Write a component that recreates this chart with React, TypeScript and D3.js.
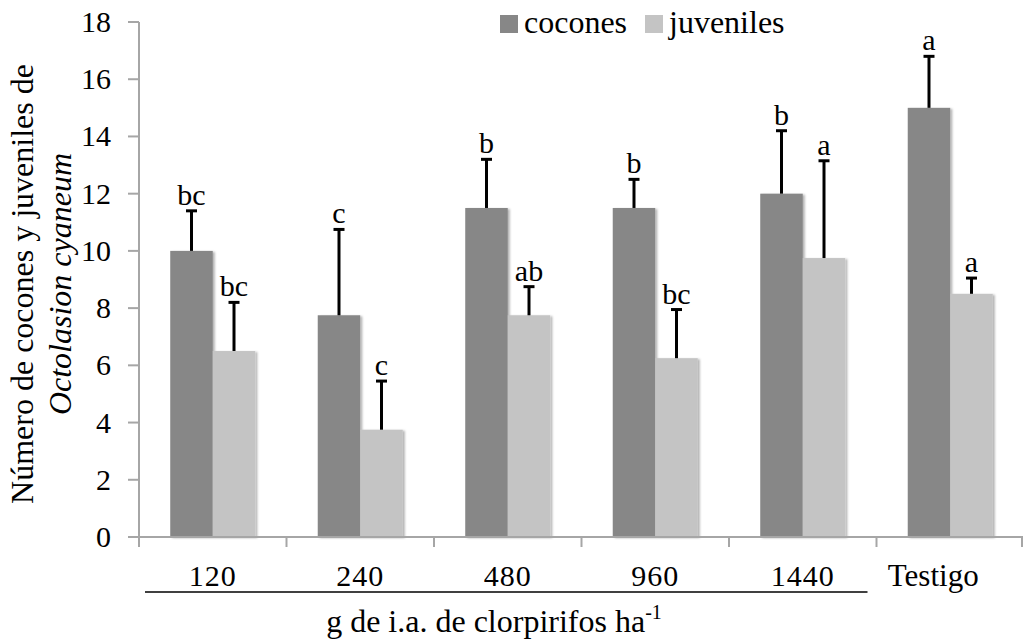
import React from 'react';
import * as d3 from 'd3';

const categories = ['120', '240', '480', '960', '1440', 'Testigo'];
const series = ['cocones', 'juveniles'];
const cocones = [10, 7.75, 11.5, 11.5, 12, 15];
const coconesErr = [1.4, 3.0, 1.7, 1.0, 2.2, 1.8];
const coconesLetters = ['bc', 'c', 'b', 'b', 'b', 'a'];
const juveniles = [6.5, 3.75, 7.75, 6.25, 9.75, 8.5];
const juvenilesErr = [1.7, 1.7, 1.0, 1.7, 3.4, 0.55];
const juvenilesLetters = ['bc', 'c', 'ab', 'bc', 'a', 'a'];
const yTicks = [0, 2, 4, 6, 8, 10, 12, 14, 16, 18];

const colors = { cocones: '#878787', juveniles: '#c4c4c4' };
const font = "'Liberation Serif', 'DejaVu Serif', serif";

export default function App() {
  const width = 1023;
  const height = 642;
  const margin = { top: 22, right: 0, bottom: 105, left: 139 };

  const x0 = d3.scaleBand()
    .domain(categories)
    .range([margin.left, 1024]);

  const x1 = d3.scaleBand()
    .domain(series)
    .range([0, x0.bandwidth()])
    .paddingInner(0)
    .paddingOuter(0.735);

  const y = d3.scaleLinear()
    .domain([0, 18])
    .range([height - margin.bottom, margin.top]);

  const rows = categories.map((c, i) => ({
    cat: c,
    bars: [
      { key: 'cocones', value: cocones[i], err: coconesErr[i], letter: coconesLetters[i] },
      { key: 'juveniles', value: juveniles[i], err: juvenilesErr[i], letter: juvenilesLetters[i] },
    ],
  }));

  const base = y(0);
  const bw = x1.bandwidth();

  // line under the dose labels
  const lineX1 = x0('120')! + 6;
  const lineX2 = x0('1440')! + x0.bandwidth() - 9;

  return (
    <svg width={width} height={height} style={{ position: 'absolute', left: 0, top: 0, fontFamily: font }}>
      <defs>
        <filter id="shadow" x="-20%" y="-5%" width="140%" height="110%">
          <feDropShadow dx="2" dy="1" stdDeviation="1.2" floodColor="#000" floodOpacity="0.3" />
        </filter>
      </defs>
      <rect width={width} height={height} fill="#fff" />

      {/* bars */}
      {rows.map(r => (
        <g key={r.cat} transform={`translate(${x0(r.cat)},0)`}>
          {r.bars.map(b => (
            <rect
              key={b.key}
              x={x1(b.key)}
              y={y(b.value)}
              width={bw}
              height={base - y(b.value)}
              fill={colors[b.key as keyof typeof colors]}
              filter="url(#shadow)"
            />
          ))}
        </g>
      ))}

      {/* error bars and letters */}
      {rows.map(r => (
        <g key={r.cat + '-err'} transform={`translate(${x0(r.cat)},0)`}>
          {r.bars.map(b => {
            const cx = x1(b.key)! + bw / 2;
            const top = y(b.value + b.err);
            return (
              <g key={b.key}>
                <line x1={cx} x2={cx} y1={y(b.value)} y2={top} stroke="#000" strokeWidth={3} />
                <line x1={cx - 5.5} x2={cx + 5.5} y1={top} y2={top} stroke="#000" strokeWidth={3} />
                <text x={cx} y={top - 6} textAnchor="middle" fontSize={30} fill="#000">{b.letter}</text>
              </g>
            );
          })}
        </g>
      ))}

      {/* y axis */}
      <line x1={margin.left} x2={margin.left} y1={y(18)} y2={base} stroke="#a6a6a6" strokeWidth={2} />
      {yTicks.map(t => (
        <g key={t}>
          <line x1={128} x2={margin.left} y1={y(t)} y2={y(t)} stroke="#a6a6a6" strokeWidth={2} />
          <text x={111} y={y(t) + 10} textAnchor="end" fontSize={30} fill="#000">{t}</text>
        </g>
      ))}

      {/* x axis */}
      <line x1={margin.left} x2={1024} y1={base} y2={base} stroke="#a6a6a6" strokeWidth={2} />
      {[...categories.map(c => x0(c)!), 1022].map((v, i) => (
        <line key={i} x1={v} x2={v} y1={base} y2={base + 10} stroke="#a6a6a6" strokeWidth={2} />
      ))}
      {categories.map(c => (
        <text
          key={c}
          x={x0(c)! + x0.bandwidth() / 2 + (c === 'Testigo' ? -17 : 0)}
          y={586}
          textAnchor="middle"
          fontSize={c === 'Testigo' ? 31 : 30}
          fill="#000"
          letterSpacing={c === 'Testigo' ? 0 : 1}
        >
          {c}
        </text>
      ))}
      <line x1={lineX1} x2={lineX2} y1={592} y2={592} stroke="#000" strokeWidth={1.6} />

      {/* x title */}
      <text x={494} y={632} textAnchor="middle" fontSize={32} fill="#000">
        g de i.a. de clorpirifos ha<tspan fontSize={20} dy={-13}>-1</tspan>
      </text>

      {/* y title */}
      <g transform="translate(33,284) rotate(-90)">
        <text x={0} y={0} textAnchor="middle" fontSize={32} fill="#000">Número de cocones y juveniles de</text>
        <text x={0} y={38} textAnchor="middle" fontSize={32} fill="#000" fontStyle="italic">Octolasion cyaneum</text>
      </g>

      {/* legend */}
      <g>
        {series.map((s, i) => {
          const lx = i === 0 ? 500 : 645;
          return (
            <g key={s}>
              <rect x={lx} y={15} width={18} height={18} fill={colors[s as keyof typeof colors]} />
              <text x={lx + 24} y={33} fontSize={32} fill="#000">{s}</text>
            </g>
          );
        })}
      </g>
    </svg>
  );
}
